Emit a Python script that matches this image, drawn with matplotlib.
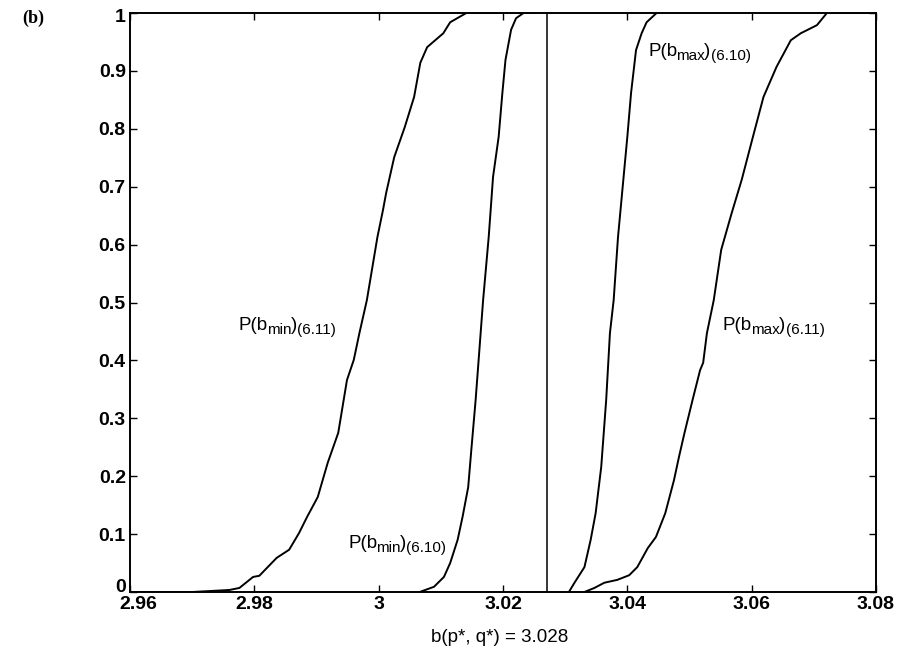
import matplotlib
matplotlib.use("Agg")
import matplotlib.pyplot as plt
from matplotlib.transforms import ScaledTranslation

plt.rcParams['font.family'] = ['Liberation Sans', 'DejaVu Sans']

# Empirical CDF curves (x value, cumulative probability)
bmin611_x = [2.960, 2.9700, 2.9760, 2.9776, 2.9798, 2.9808, 2.9836, 2.9856, 2.9872, 2.9885, 2.9902,
             2.9918, 2.9935, 2.9949, 2.9960, 2.9969, 2.9981, 2.9998, 3.0007, 3.0012,
             3.0025, 3.0042, 3.0057, 3.0067, 3.0078, 3.0104, 3.0115, 3.0141, 3.0250]
bmin611_y = [0.0, 0.0, 0.0035, 0.007, 0.026, 0.028, 0.059, 0.073, 0.102, 0.130, 0.164,
             0.223, 0.275, 0.366, 0.401, 0.447, 0.504, 0.613, 0.660, 0.689,
             0.751, 0.803, 0.855, 0.914, 0.941, 0.965, 0.984, 1.0, 1.0]

bmin610_x = [3.0066, 3.0089, 3.0105, 3.0115, 3.0127, 3.0135, 3.0144, 3.0149, 3.0156,
             3.0162, 3.0168, 3.0177, 3.0184, 3.0193, 3.0199, 3.0204, 3.0213, 3.0221, 3.0233]
bmin610_y = [0.0, 0.009, 0.026, 0.050, 0.090, 0.130, 0.181, 0.245, 0.332,
             0.418, 0.504, 0.613, 0.717, 0.786, 0.862, 0.919, 0.971, 0.991, 1.0]

bmax610_x = [3.0306, 3.0315, 3.0331, 3.0341, 3.0349, 3.0358, 3.0366, 3.0372, 3.0378,
             3.0385, 3.0394, 3.0400, 3.0406, 3.0414, 3.0423, 3.0431, 3.0447]
bmax610_y = [0.0, 0.016, 0.043, 0.090, 0.136, 0.216, 0.332, 0.447, 0.504,
             0.613, 0.717, 0.786, 0.862, 0.936, 0.965, 0.984, 1.0]

bmax611_x = [3.0331, 3.0347, 3.0363, 3.0384, 3.0403, 3.0416, 3.0433, 3.0446, 3.0461,
             3.0475, 3.0483, 3.0492, 3.0505, 3.0517, 3.0522, 3.0528, 3.0539, 3.0551,
             3.0568, 3.0584, 3.0602, 3.0619, 3.0640, 3.0663, 3.0679, 3.0705, 3.0721, 3.0800]
bmax611_y = [0.0, 0.007, 0.016, 0.021, 0.029, 0.043, 0.076, 0.095, 0.136,
             0.193, 0.233, 0.275, 0.332, 0.383, 0.396, 0.447, 0.504, 0.591,
             0.655, 0.712, 0.786, 0.855, 0.907, 0.953, 0.965, 0.979, 1.0, 1.0]

b_star = 3.027

x_ticks = [2.96, 2.98, 3.00, 3.02, 3.04, 3.06, 3.08]
x_tick_labels = ['2.96', '2.98', '3', '3.02', '3.04', '3.06', '3.08']
y_ticks = [0, 0.1, 0.2, 0.3, 0.4, 0.5, 0.6, 0.7, 0.8, 0.9, 1.0]
y_tick_labels = ['0', '0.1', '0.2', '0.3', '0.4', '0.5', '0.6', '0.7', '0.8', '0.9', '1']

W, H, DPI = 902, 660, 100
fig = plt.figure(figsize=(W / DPI, H / DPI), dpi=DPI)
ax = fig.add_axes([130 / W, 1 - 592 / H, (876 - 130) / W, (592 - 13) / H])

lw = 1.4
ax.plot(bmin611_x, bmin611_y, color='black', lw=lw)
ax.plot(bmin610_x, bmin610_y, color='black', lw=lw)
ax.plot(bmax610_x, bmax610_y, color='black', lw=lw)
ax.plot(bmax611_x, bmax611_y, color='black', lw=lw)
ax.axvline(b_star, color='black', lw=1.1)

ax.set_xlim(2.96, 3.08)
ax.set_ylim(0, 1)
ax.set_xticks(x_ticks)
ax.set_xticklabels(x_tick_labels)
ax.set_yticks(y_ticks)
ax.set_yticklabels(y_tick_labels)
ax.tick_params(direction='in', length=5, width=1.0, top=True, right=True,
               labelsize=14, pad=3)
for lab in ax.get_xticklabels() + ax.get_yticklabels():
    lab.set_fontweight('bold')
ylabs = ax.get_yticklabels()
ylabs[0].set_transform(ylabs[0].get_transform() + ScaledTranslation(0, 6 / DPI, fig.dpi_scale_trans))
ylabs[-1].set_transform(ylabs[-1].get_transform() + ScaledTranslation(0, -3 / DPI, fig.dpi_scale_trans))
xlabs = ax.get_xticklabels()
xlabs[0].set_transform(xlabs[0].get_transform() + ScaledTranslation(8 / DPI, 0, fig.dpi_scale_trans))
for s in ax.spines.values():
    s.set_linewidth(1.4)

renderer = fig.canvas.get_renderer()
MAIN, SUB, DROP = 13.5, 11, -4


def rich(x_px, y_px, sub, num):
    pieces = [('P(b', MAIN, 0, -1.5), (sub, SUB, DROP, 0.0), (')', MAIN, 0, 0.0),
              ('(' + num + ')', SUB, DROP, 0.0)]
    xoff = 0.0
    for txt, size, dy, kern in pieces:
        tr = fig.transFigure + ScaledTranslation(xoff / DPI, dy / DPI, fig.dpi_scale_trans)
        t = fig.text(x_px / W, 1 - y_px / H, txt, fontsize=size, transform=tr,
                     ha='left', va='baseline')
        xoff += t.get_window_extent(renderer).width + kern


rich(239, 330, 'min', '6.11')
rich(348, 548, 'min', '6.10')
rich(648, 56, 'max', '6.10')
rich(723, 330, 'max', '6.11')

fig.text(500 / W, 1 - 637 / H, 'b(p*, q*) = 3.028', fontsize=13.5, ha='center', va='center')
fig.text(22 / W, 1 - 18 / H, '(b)', fontsize=13, fontweight='bold', ha='left', va='center',
         family=['Liberation Serif', 'DejaVu Serif'])

fig.savefig('out.png', dpi=DPI)
